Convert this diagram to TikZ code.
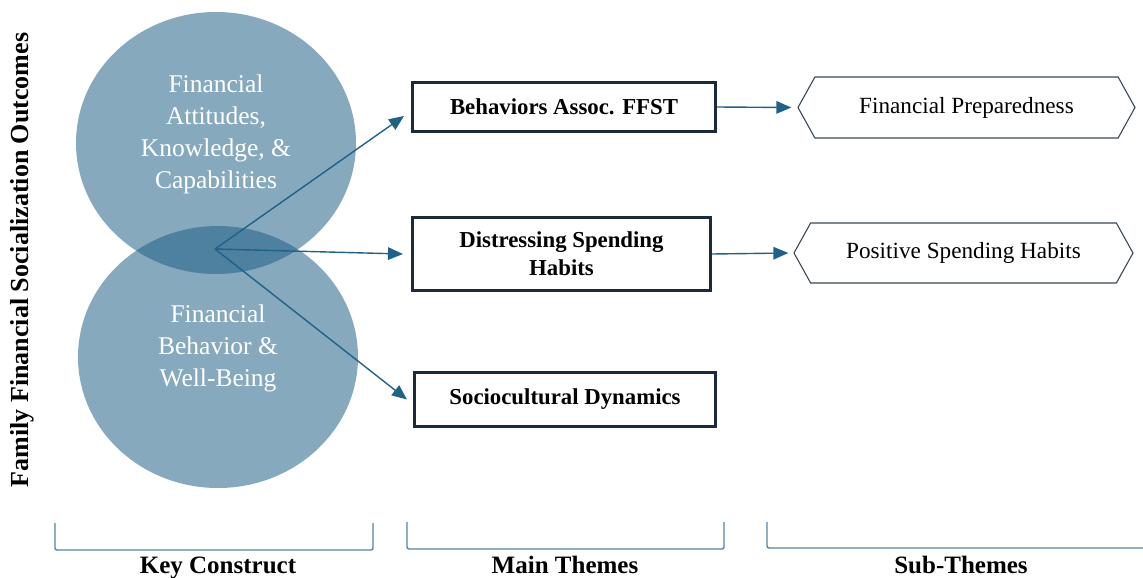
\documentclass[tikz,border=0pt]{standalone}
\usepackage{fontspec}
\setmainfont{Liberation Serif}
\usetikzlibrary{arrows.meta,shapes.symbols,calc}

\definecolor{venn}{RGB}{27,93,132}
\definecolor{arrowc}{RGB}{31,98,137}
\definecolor{boxline}{RGB}{28,43,60}
\definecolor{hexline}{RGB}{58,72,88}
\definecolor{brack}{RGB}{88,132,158}

\tikzset{
  vennset/.style={fill=venn, fill opacity=0.53, draw=none},
  venntext/.style={text=white, align=center, font=\fontsize{25.5}{32}\selectfont},
  themebox/.style={draw=boxline, line width=3pt, fill=white, align=center,
    font=\bfseries\fontsize{22.8}{28}\selectfont, inner sep=0pt},
  subbox/.style={shape=signal, signal to=east and west, signal pointer angle=122,
    draw=hexline, line width=1.1pt, fill=white, inner sep=0pt,
    font=\fontsize{23.2}{28}\selectfont},
  link/.style={draw=arrowc, line width=1.4pt,
    -{Triangle[length=15pt,width=12.5pt]}},
  bracket/.style={draw=brack, line width=1.4pt, rounded corners=2pt},
  groupname/.style={font=\bfseries\fontsize{25}{30}\selectfont, anchor=base}
}

\begin{document}
\begin{tikzpicture}[x=1pt,y=-1pt]
\useasboundingbox (0,0) rectangle (1143,578);

% key construct: two overlapping sets
\fill[vennset] (216,143) ellipse [x radius=140, y radius=131];
\fill[vennset] (218,357) ellipse [x radius=140, y radius=131];
\node[venntext] (attitudes) at (216,134)
  {Financial\\Attitudes,\\Knowledge, \&\\Capabilities};
\node[venntext] (behavior) at (218,348)
  {Financial\\Behavior \&\\Well-Being};
\coordinate (hub) at (215,249);

% side label
\node[rotate=90, font=\bfseries\fontsize{26}{30}\selectfont] (outcomes) at (22,260)
  {Family Financial Socialization Outcomes};

% main themes
\node[themebox, minimum width=303pt, minimum height=49pt] (ffst) at (564,107)
  {Behaviors Assoc. FFST};
\node[themebox, minimum width=298pt, minimum height=73pt] (distress) at (561.5,254)
  {Distressing Spending\\Habits};
\node[themebox, minimum width=301pt, minimum height=54pt] (socio) at (565,399.5)
  {Sociocultural Dynamics};

% sub-themes
\node[subbox, minimum width=337pt, minimum height=61pt] (prep) at (966.5,107.5)
  {Financial Preparedness};
\node[subbox, minimum width=339pt, minimum height=60pt] (positive) at (963.5,253)
  {Positive Spending Habits};

% connectors
\draw[link] (hub) -- ([xshift=-7pt,yshift=-9pt]ffst.west);
\draw[link] (hub) -- ([xshift=-8pt]distress.west);
\draw[link] (hub) -- ([xshift=-6pt]socio.west);
\draw[link] (ffst.east) -- ([xshift=-6pt]prep.west);
\draw[link] (distress.east) -- ([xshift=-5pt]positive.west);

% group brackets and names
\draw[bracket] (55,523) -- (55,550) -- (373,550) -- (373,523);
\draw[bracket] (407,522) -- (407,549) -- (724,549) -- (724,522);
\draw[bracket] (767,522) -- (767,548) -- (1143,548);
\node[groupname] (keyc) at (218,573) {Key Construct};
\node[groupname] (mainth) at (565,573) {Main Themes};
\node[groupname] (subth) at (961,573) {Sub-Themes};
\end{tikzpicture}
\end{document}
